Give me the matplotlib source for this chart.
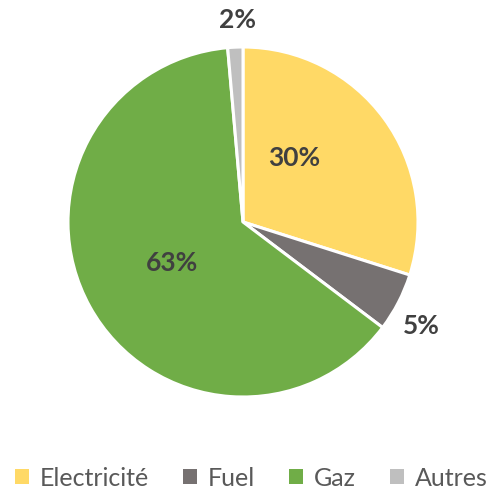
import numpy as np
import matplotlib
matplotlib.use("Agg")
import matplotlib.pyplot as plt
from matplotlib.patches import Patch

# Data
categories = ['Electricité', 'Fuel', 'Gaz', 'Autres']
values = [29.9, 5.4, 63.3, 1.4]
labels = ['30%', '5%', '63%', '2%']
colors = ['#FFD966', '#767171', '#70AD47', '#BFBFBF']

# label placement (radius, angle offset from wedge middle, degrees)
label_pos = [(0.47, 15), (1.18, -3), (0.47, 1), (1.155, -1)]

plt.rcParams['font.family'] = ['Lato', 'DejaVu Sans']

fig = plt.figure(figsize=(4.91, 4.93), dpi=100)
ax = fig.add_axes([243/491 - 175/491, 1 - (222 + 175)/493, 350/491, 350/493])

wedges, _ = ax.pie(values, colors=colors, startangle=90, counterclock=False,
                   wedgeprops=dict(edgecolor='white', linewidth=2.2))
ax.set_xlim(-1, 1)
ax.set_ylim(-1, 1)
ax.set_aspect('auto')

for w, lab, (r, off) in zip(wedges, labels, label_pos):
    mid = np.deg2rad((w.theta1 + w.theta2) / 2 + off)
    ax.text(r * np.cos(mid), r * np.sin(mid), lab, ha='center', va='center',
            fontsize=19, fontweight='bold', color='#404040')

handles = [Patch(facecolor=c, edgecolor='none') for c in colors]
fig.legend(handles, categories, loc='center', bbox_to_anchor=(0.512, 1 - 478/493),
           ncol=4, frameon=False, fontsize=18, labelcolor='#595959',
           handlelength=0.55, handleheight=0.55, handletextpad=0.45, columnspacing=1.35)

fig.savefig('out.png', dpi=100)
